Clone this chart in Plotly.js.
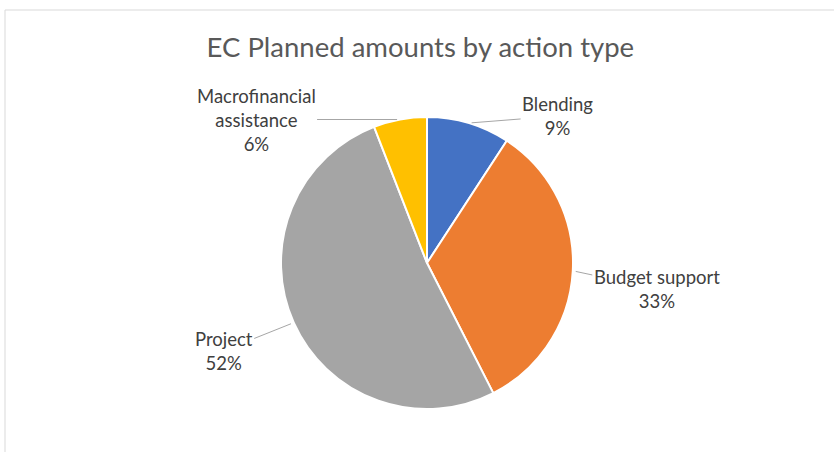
<!DOCTYPE html>
<html>
<head>
<meta charset="utf-8">
<script src="https://cdn.plot.ly/plotly-3.0.1.min.js"></script>
<style>html,body{margin:0;padding:0;background:#fff;}#chart{width:834px;height:452px;}</style>
</head>
<body>
<div id="chart"></div>
<script>
var categories = ["Blending", "Budget support", "Project", "Macrofinancial<br>assistance"];
var values = [9.2, 33.3, 51.6, 5.9];
var colors = ["#4472C4", "#ED7D31", "#A5A5A5", "#FFC000"];
// label text offsets (px) from slice edge midpoint
var labelOffsets = [[89, -7], [84, 18], [-70, 28], [-144, 0]];

var W = 834, H = 452;
var margin = {l: 20, r: 0, t: 117, b: 43};
var pw = W - margin.l - margin.r, ph = H - margin.t - margin.b;

var total = values.reduce(function(a, b){ return a + b; }, 0);
var annotations = [];
var cum = 0;
for (var i = 0; i < values.length; i++) {
  var frac = values[i] / total;
  var mid = (cum + frac / 2) * 2 * Math.PI;
  cum += frac;
  var r = Math.min(pw, ph) / 2;
  var px = pw / 2 + r * Math.sin(mid);
  var py = ph / 2 + r * Math.cos(mid);
  annotations.push({
    xref: "paper", yref: "paper",
    x: px / pw, y: py / ph,
    ax: labelOffsets[i][0], ay: labelOffsets[i][1],
    text: categories[i] + "<br>" + Math.round(frac * 100) + "%",
    showarrow: true, arrowhead: 0, arrowwidth: 1, arrowcolor: "#A6A6A6",
    standoff: 3,
    font: {family: "Lato, 'Open Sans', sans-serif", size: 18.5, color: "#404040"},
    align: "center"
  });
}

var data = [{
  type: "pie",
  labels: categories,
  values: values,
  sort: false,
  direction: "clockwise",
  rotation: 0,
  marker: {colors: colors, line: {color: "#FFFFFF", width: 2}},
  textinfo: "none",
  hoverinfo: "skip",
  showlegend: false
}];

var layout = {
  width: W, height: H,
  margin: margin,
  paper_bgcolor: "#FFFFFF",
  showlegend: false,
  title: {
    text: "EC Planned amounts by action type",
    font: {family: "Lato, 'Open Sans', sans-serif", size: 27.5, color: "#595959"},
    x: 0.504, xanchor: "center",
    y: 1 - 47 / H, yref: "container", yanchor: "middle"
  },
  annotations: annotations,
  shapes: [{
    type: "rect", xref: "paper", yref: "paper",
    x0: (5 - margin.l) / pw, x1: (W + 20 - margin.l) / pw,
    y0: -(H + 20 - (H - margin.b)) / ph, y1: ((H - margin.b) - 10) / ph,
    line: {color: "#D9D9D9", width: 1}, fillcolor: "rgba(0,0,0,0)", layer: "below"
  }]
};

Plotly.newPlot("chart", data, layout, {displayModeBar: false, staticPlot: true});
</script>
</body>
</html>
